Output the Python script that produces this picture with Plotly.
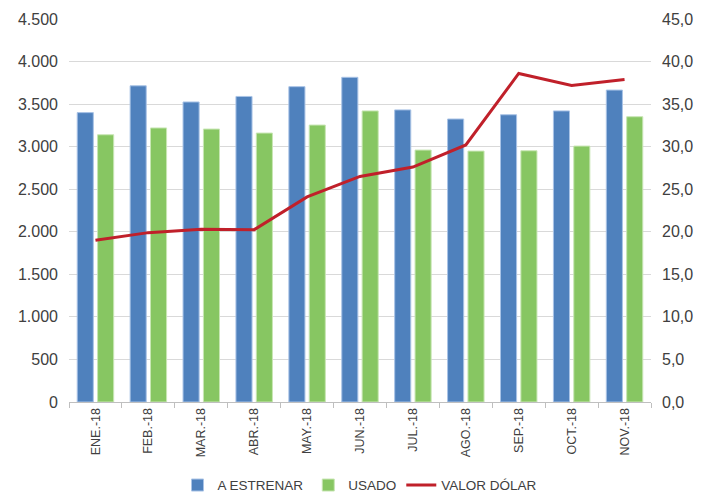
import plotly.graph_objects as go

months = ["ENE.-18", "FEB.-18", "MAR.-18", "ABR.-18", "MAY.-18", "JUN.-18",
          "JUL.-18", "AGO.-18", "SEP.-18", "OCT.-18", "NOV.-18"]
a_estrenar = [3400, 3715, 3525, 3590, 3705, 3815, 3432, 3325, 3375, 3420, 3665]
usado = [3140, 3220, 3207, 3160, 3254, 3420, 2960, 2948, 2952, 3007, 3352]
valor_dolar = [19.0, 19.9, 20.3, 20.25, 24.1, 26.5, 27.6, 30.2, 38.6, 37.2, 37.9]

font_family = "Liberation Sans, Arial, sans-serif"
txt = "#404040"

fig = go.Figure()
fig.add_trace(go.Bar(x=months, y=a_estrenar, name="A ESTRENAR",
                     marker=dict(color="#4F81BD", line=dict(color="#A9C3E6", width=1))))
fig.add_trace(go.Bar(x=months, y=usado, name="USADO",
                     marker=dict(color="#87C662", line=dict(color="#C8E6B4", width=1))))
fig.add_trace(go.Scatter(x=months, y=valor_dolar, name="VALOR DÓLAR", yaxis="y2",
                         mode="lines", line=dict(color="#C0202A", width=3)))

fig.update_layout(
    width=715, height=488,
    margin=dict(l=61, r=72, t=11, b=94),
    paper_bgcolor="white", plot_bgcolor="white",
    separators=",.",
    barmode="group", bargap=0.23, bargroupgap=0.21,
    font=dict(family=font_family, color=txt, size=13),
    showlegend=True,
    legend=dict(orientation="h", x=0.5, xanchor="center",
                yref="container", y=0.022, yanchor="middle",
                font=dict(size=13.5, color=txt), traceorder="normal",
                itemwidth=30, tracegroupgap=0),
    xaxis=dict(
        type="category", tickangle=-90, showgrid=False, automargin=False,
        showline=True, linecolor="#BFBFBF", linewidth=1,
        ticks="outside", tickson="boundaries", ticklen=5, tickcolor="#BFBFBF",
        tickfont=dict(size=12.5, color=txt),
    ),
    yaxis=dict(
        range=[0, 4500], dtick=500, tickformat=",d", automargin=False,
        showgrid=True, gridcolor="#D9D9D9", gridwidth=1,
        zeroline=False, showline=False, ticks="", ticklabelstandoff=10,
        tickfont=dict(size=16, color=txt),
    ),
    yaxis2=dict(
        overlaying="y", side="right", range=[0, 45], dtick=5, tickformat=".1f",
        automargin=False, ticklabelstandoff=10,
        showgrid=False, zeroline=False, showline=False, ticks="",
        tickfont=dict(size=16, color=txt),
    ),
)

fig.write_html("out.html")
